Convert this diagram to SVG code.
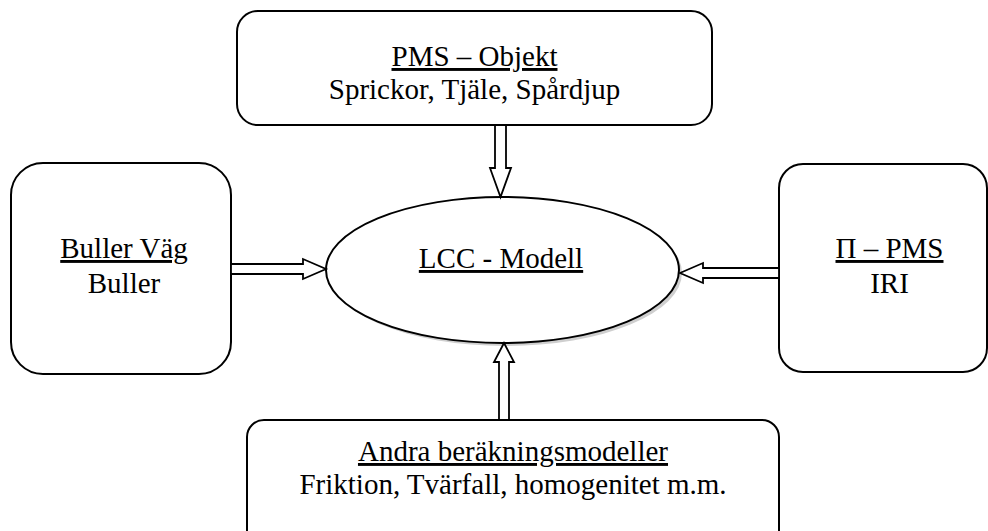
<svg xmlns="http://www.w3.org/2000/svg" width="988" height="531" viewBox="0 0 988 531">
  <style>
    .box { fill: #ffffff; stroke: #000000; stroke-width: 2; }
    .arrow { fill: #ffffff; stroke: #000000; stroke-width: 1.8; stroke-linejoin: miter; }
    .label { font-family: "Liberation Serif", "Times New Roman", serif; font-size: 29px; fill: #000000; text-anchor: middle; }
    .title { text-decoration: underline; }
  </style>
  <rect width="988" height="531" fill="#ffffff"/>

  <!-- central model -->
  <g id="lcc-modell">
    <ellipse cx="505.5" cy="273" rx="176.5" ry="73" fill="#cfcfcf"/>
    <ellipse cx="502.5" cy="270" rx="176.5" ry="73" class="box"/>
    <text x="501" y="268" class="label title">LCC - Modell</text>
  </g>

  <!-- input sources -->
  <g id="pms-objekt">
    <rect x="237" y="11" width="475" height="114" rx="21" ry="21" class="box"/>
    <text x="474.5" y="66" class="label title">PMS – Objekt</text>
    <text x="474.5" y="99" class="label">Sprickor, Tjäle, Spårdjup</text>
  </g>

  <g id="buller-vag">
    <rect x="11" y="163" width="220" height="211" rx="32" ry="32" class="box"/>
    <text x="124" y="258" class="label title">Buller Väg</text>
    <text x="124" y="293" class="label">Buller</text>
  </g>

  <g id="pi-pms">
    <rect x="779" y="164" width="208" height="208" rx="24" ry="24" class="box"/>
    <text x="889.5" y="258" class="label title">Π – PMS</text>
    <text x="889.5" y="293" class="label">IRI</text>
  </g>

  <g id="andra-modeller">
    <rect x="247" y="420" width="532" height="130" rx="17" ry="17" class="box"/>
    <text x="513" y="461" class="label title">Andra beräkningsmodeller</text>
    <text x="513" y="494" class="label">Friktion, Tvärfall, homogenitet m.m.</text>
  </g>

  <!-- hollow block arrows into the model -->
  <g id="connectors">
    <polygon class="arrow" points="495,125 506,125 506,168 511,168 500.5,197 490,168 495,168"/>
    <polygon class="arrow" points="504,343 514,362 509,362 509,420 499,420 499,362 494,362"/>
    <polygon class="arrow" points="231,264 303,264 303,259 326,269 303,279 303,274 231,274"/>
    <polygon class="arrow" points="680,273 703,263 703,268 779,268 779,278 703,278 703,283"/>
  </g>
</svg>
